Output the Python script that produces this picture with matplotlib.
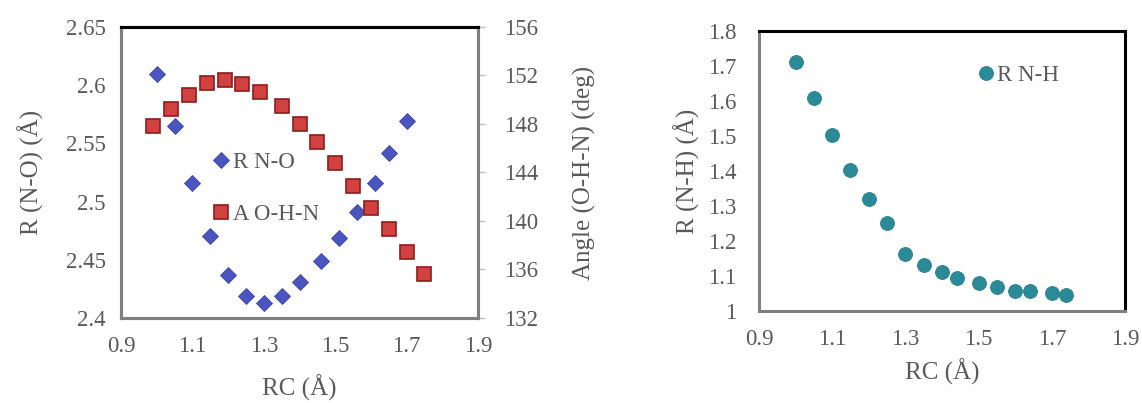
import matplotlib
matplotlib.use("Agg")
import matplotlib.pyplot as plt
from matplotlib.ticker import FixedLocator

plt.rcParams['font.family'] = ['Liberation Serif', 'DejaVu Serif']

# ---- data ----
rc_no = [1.00, 1.05, 1.10, 1.15, 1.20, 1.25, 1.30, 1.35, 1.40, 1.46, 1.51, 1.56, 1.61, 1.65, 1.70]
r_no = [2.610, 2.565, 2.516, 2.470, 2.437, 2.419, 2.413, 2.419, 2.431, 2.449, 2.469, 2.491, 2.516, 2.542, 2.569]

rc_ang = [0.99, 1.04, 1.09, 1.14, 1.19, 1.24, 1.29, 1.35, 1.40, 1.45, 1.50, 1.55, 1.60, 1.65, 1.70, 1.75]
a_ohn = [147.8, 149.2, 150.4, 151.4, 151.6, 151.3, 150.6, 149.5, 148.0, 146.5, 144.8, 142.9, 141.1, 139.3, 137.4, 135.6]

rc_nh = [1.00, 1.05, 1.10, 1.15, 1.20, 1.25, 1.30, 1.35, 1.40, 1.44, 1.50, 1.55, 1.60, 1.64, 1.70, 1.74]
r_nh = [1.712, 1.608, 1.502, 1.402, 1.319, 1.252, 1.162, 1.131, 1.110, 1.093, 1.079, 1.069, 1.057, 1.057, 1.050, 1.045]

x_ticks = [0.9, 1.1, 1.3, 1.5, 1.7, 1.9]
no_ticks = [2.4, 2.45, 2.5, 2.55, 2.6, 2.65]
ang_ticks = [132, 136, 140, 144, 148, 152, 156]
nh_ticks = [1.0, 1.1, 1.2, 1.3, 1.4, 1.5, 1.6, 1.7, 1.8]

TXT = '#595959'
GREY = '#7f7f7f'
BLUE = '#4a55c0'
RED = '#d0413f'
RED_E = '#8b1c1c'
TEAL = '#2b8a98'
FS = 16.5
LFS = 18

fig = plt.figure(figsize=(11.42, 4.03), dpi=100)

def fmt(v):
    return '%g' % v

def style_spines(ax, colors):
    for k, c in colors.items():
        ax.spines[k].set_color(c)
        ax.spines[k].set_linewidth(2.2)

# ---- left panel ----
ax = fig.add_axes([0.106, 0.211, 0.3126, 0.722])
ax2 = ax.twinx()
l1, = ax.plot(rc_no, r_no, linestyle='none', marker='D', ms=8, color=BLUE,
              markeredgecolor='#3a44a8', markeredgewidth=0.6, label='R N-O', zorder=3)
l2, = ax2.plot(rc_ang, a_ohn, linestyle='none', marker='s', ms=10, color=RED,
               markeredgecolor=RED_E, markeredgewidth=1.2, label='A O-H-N', zorder=3)
ax.set_xlim(0.9, 1.9)
ax.set_ylim(2.4, 2.65)
ax2.set_ylim(132, 156)
ax.xaxis.set_major_locator(FixedLocator(x_ticks))
ax.set_xticklabels([fmt(v) for v in x_ticks])
ax.yaxis.set_major_locator(FixedLocator(no_ticks))
ax.set_yticklabels([fmt(v) for v in no_ticks])
ax2.yaxis.set_major_locator(FixedLocator(ang_ticks))
ax2.set_yticklabels([fmt(v) for v in ang_ticks])
ax.tick_params(axis='x', length=0, labelsize=FS, labelcolor=TXT, pad=13)
ax.tick_params(axis='y', length=0, labelsize=FS, labelcolor=TXT, pad=11)
ax2.tick_params(axis='y', length=5, width=1, color='#bfbfbf', labelsize=FS, labelcolor=TXT, pad=14)
ax.set_xlabel('RC (Å)', fontsize=LFS, color=TXT, labelpad=13)
ax.set_ylabel('R (N-O) (Å)', fontsize=LFS, color=TXT, labelpad=16)
ax2.set_ylabel('Angle (O-H-N) (deg)', fontsize=LFS, color=TXT, labelpad=25)
for a in (ax, ax2):
    style_spines(a, {'top': 'black', 'left': GREY, 'bottom': GREY, 'right': GREY})
ax2.legend(handles=[l1, l2], loc='upper left', bbox_to_anchor=(0.229, 0.61),
           frameon=False, fontsize=FS, labelcolor=TXT, handlelength=0.6,
           handletextpad=0.2, labelspacing=1.35, borderpad=0)

# ---- right panel ----
bx = fig.add_axes([0.6646, 0.2283, 0.3205, 0.6948])
l3, = bx.plot(rc_nh, r_nh, linestyle='none', marker='o', ms=10, color=TEAL,
              markeredgecolor='#2a7f8c', markeredgewidth=0.6, label='R N-H', zorder=3)
bx.set_xlim(0.9, 1.9)
bx.set_ylim(1.0, 1.8)
bx.xaxis.set_major_locator(FixedLocator(x_ticks))
bx.set_xticklabels([fmt(v) for v in x_ticks])
bx.yaxis.set_major_locator(FixedLocator(nh_ticks))
bx.set_yticklabels([fmt(v) for v in nh_ticks])
bx.tick_params(axis='x', length=0, labelsize=FS, labelcolor=TXT, pad=13)
bx.tick_params(axis='y', length=0, labelsize=FS, labelcolor=TXT, pad=16)
bx.set_xlabel('RC (Å)', fontsize=LFS, color=TXT, labelpad=6)
bx.set_ylabel('R (N-H) (Å)', fontsize=LFS, color=TXT, labelpad=6)
style_spines(bx, {'top': 'black', 'right': 'black', 'left': GREY, 'bottom': GREY})
bx.legend(handles=[l3], loc='upper left', bbox_to_anchor=(0.57, 0.92), frameon=False,
          fontsize=FS, labelcolor=TXT, handlelength=0.6, handletextpad=0.2, borderpad=0)

fig.savefig('out.png', dpi=100)
